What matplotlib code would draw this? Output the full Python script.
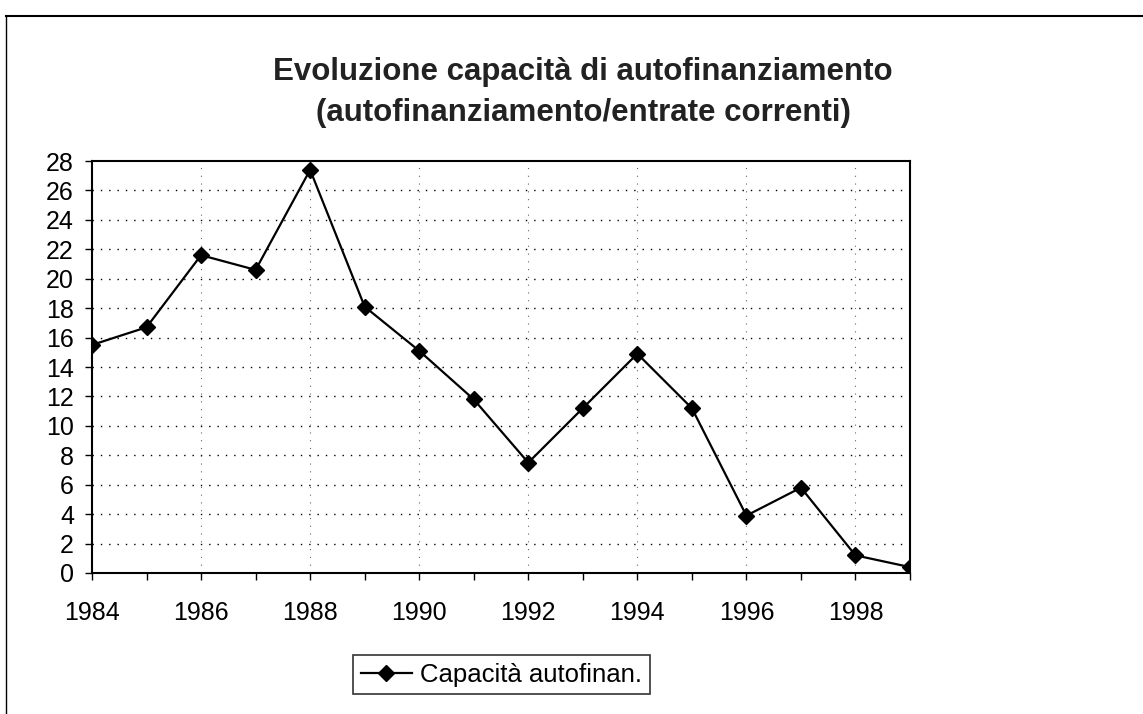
import matplotlib.pyplot as plt
from matplotlib.lines import Line2D

years = list(range(1984, 2000))
capacita = [15.5, 16.7, 21.6, 20.6, 27.4, 18.1, 15.1, 11.8, 7.5, 11.2, 14.9, 11.2, 3.9, 5.8, 1.2, 0.4]
yticks = list(range(0, 29, 2))
xlabels = list(range(1984, 2000, 2))

plt.rcParams['font.family'] = ['Liberation Sans', 'DejaVu Sans']

W, H = 1143, 714
fig = plt.figure(figsize=(W / 100, H / 100), dpi=100)
ax = fig.add_axes([92 / W, 1 - 573 / H, (910 - 92) / W, (573 - 161) / H])

ax.plot(years, capacita, color='black', linewidth=1.6, marker='D', markersize=8,
        label='Capacità autofinan.', zorder=3)

ax.set_xlim(1984, 1999)
ax.set_ylim(0, 28)
ax.set_yticks(yticks)
ax.set_xticks(years)
ax.set_xticklabels([str(y) if y in xlabels else '' for y in years])
ax.tick_params(axis='both', direction='out', length=5, width=1, labelsize=18, colors='black')
ax.tick_params(axis='x', pad=15)
ax.tick_params(axis='y', pad=8)

# dotted grid, horizontal every 2 and vertical at labelled years
for v in yticks[1:-1]:
    ax.axhline(v, color='black', linewidth=1, linestyle=(0, (1, 5)), zorder=1)
for y in xlabels[1:]:
    ax.axvline(y, color='#666666', linewidth=0.8, linestyle=(0, (1, 6)), zorder=1)

for s in ax.spines.values():
    s.set_linewidth(1.5)
    s.set_color('black')

fig.text(583 / W, 1 - 72 / H, 'Evoluzione capacità di autofinanziamento',
         ha='center', va='center', fontsize=22.5, fontweight='bold', color='#222222')
fig.text(583 / W, 1 - 113 / H, '(autofinanziamento/entrate correnti)',
         ha='center', va='center', fontsize=22.5, fontweight='bold', color='#222222')

leg = ax.legend(loc='upper left', bbox_to_anchor=(353 / W, 1 - 655 / H),
                bbox_transform=fig.transFigure, fontsize=18.5, frameon=True,
                fancybox=False, handlelength=2.0, handletextpad=0.3,
                borderpad=0.3, borderaxespad=0)
leg.get_frame().set_edgecolor('black')
leg.get_frame().set_linewidth(1.2)

# outer chart frame (top and left edges visible)
fig.add_artist(Line2D([6 / W, 1], [1 - 16 / H, 1 - 16 / H], color='black', linewidth=1.5))
fig.add_artist(Line2D([6 / W, 6 / W], [0, 1 - 16 / H], color='black', linewidth=1))

fig.savefig('out.png', dpi=100)
